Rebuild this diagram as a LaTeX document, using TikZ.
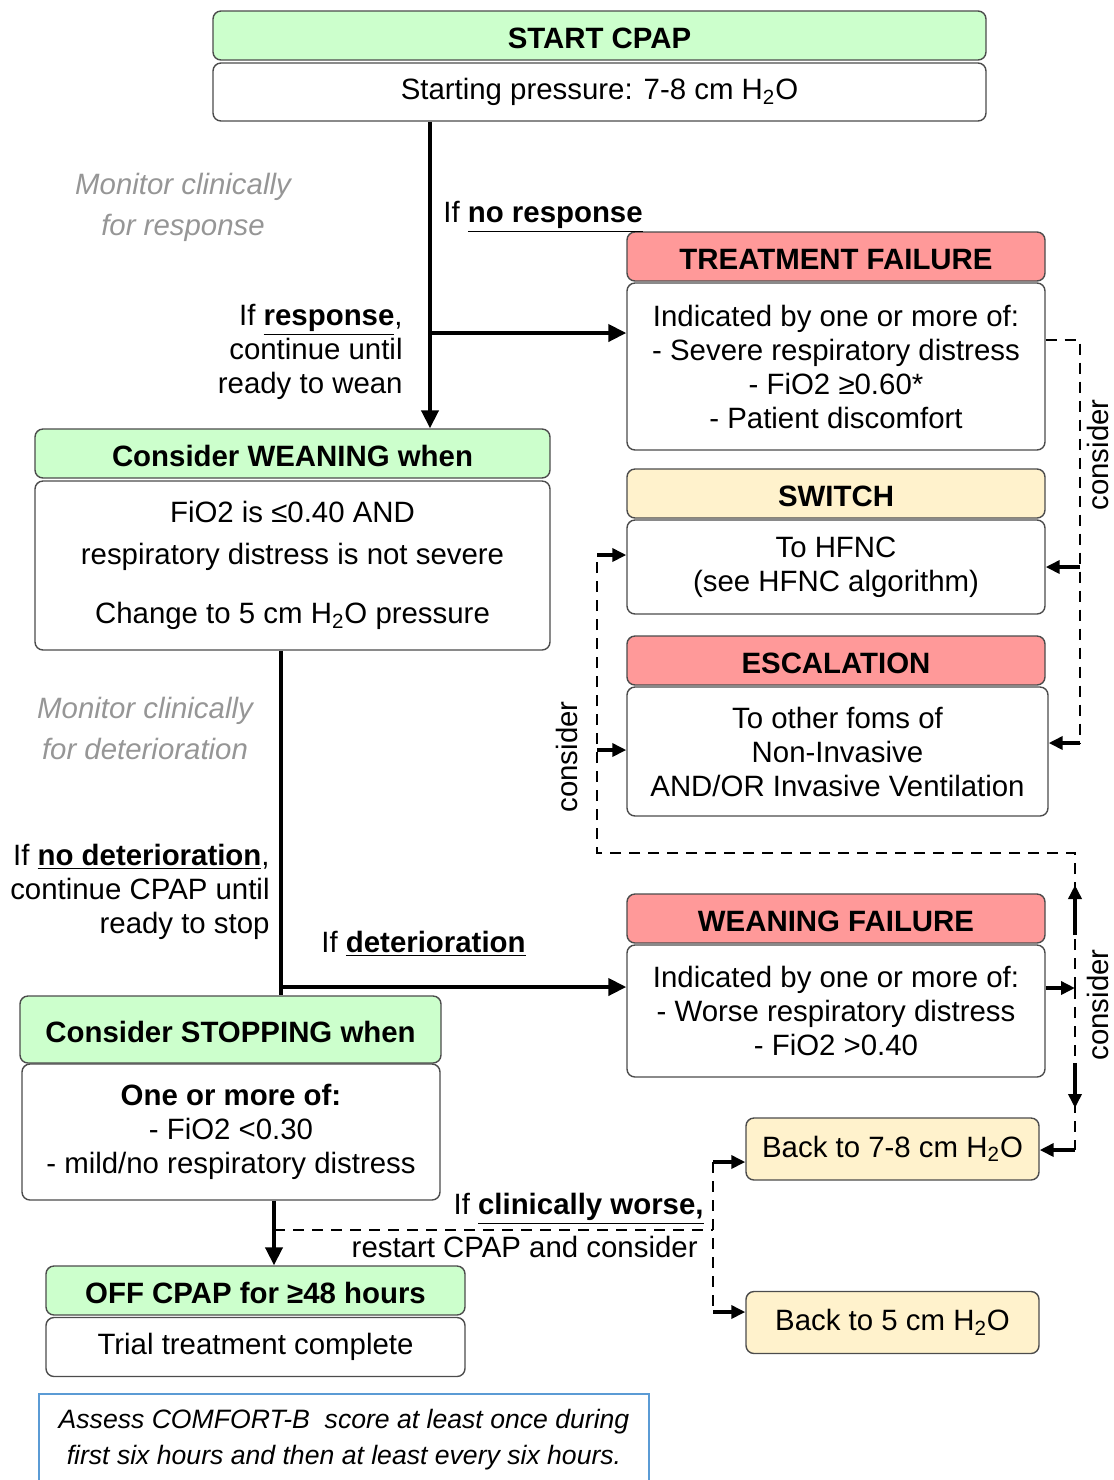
\documentclass[tikz,border=0pt]{standalone}
\usepackage{fontspec}
\setmainfont{Liberation Sans}
\usetikzlibrary{arrows.meta}
\definecolor{hdrgreen}{RGB}{204,255,204}
\definecolor{hdrred}{RGB}{255,153,153}
\definecolor{hdryellow}{RGB}{255,242,204}
\definecolor{monitorgrey}{RGB}{150,150,150}
\definecolor{noteblue}{RGB}{91,155,213}

\tikzset{
  box/.style={draw=black!70, line width=0.7pt, rounded corners=4pt, inner sep=0pt, align=center, fill=white},
  headbox/.style={box, minimum height=24.5pt, text height=13pt, text depth=0pt, font=\fontsize{14.7}{17}\selectfont\bfseries},
  greenhead/.style={headbox, fill=hdrgreen},
  redhead/.style={headbox, fill=hdrred},
  yellowhead/.style={headbox, fill=hdryellow},
  label/.style={inner sep=1pt},
  monitor/.style={text=monitorgrey, align=center, font=\fontsize{14.7}{20.5}\selectfont\itshape},
  mainarrow/.style={line width=2pt, -{Triangle[length=9pt,width=8.5pt]}},
  mainline/.style={line width=2pt},
  smallarrow/.style={line width=2pt, -{Triangle[length=7pt,width=6.5pt]}},
  dashline/.style={line width=1pt, dash pattern=on 5.5pt off 4pt},
}

\begin{document}
\begin{tikzpicture}[x=0.5pt, y=-0.5pt, every node/.style={font=\fontsize{14.7}{17}\selectfont}]
\useasboundingbox (0,0) rectangle (1114,1480);

% start
\node[greenhead, minimum width=386.5pt] (startH) at (599.5,35.5) {START CPAP};
\node[box, minimum width=386.5pt, minimum height=29pt] (startB) at (599.5,92) {Starting pressure: 7-8 cm H\textsubscript{2}O};

% failure, switch, escalation
\node[redhead, minimum width=209pt] (tfH) at (836,256.5) {TREATMENT FAILURE};
\node[box, minimum width=209pt, minimum height=83.5pt] (tfB) at (836,366.5) {Indicated by one or more of:\\ - Severe respiratory distress\\ - FiO2 ≥0.60*\\ - Patient discomfort};
\node[yellowhead, minimum width=209pt] (swH) at (836,493.5) {SWITCH};
\node[box, minimum width=209pt, minimum height=47pt] (swB) at (836,567) {To HFNC\\ (see HFNC algorithm)};
\node[redhead, minimum width=209pt] (escH) at (836,660.5) {ESCALATION};
\node[box, minimum width=210.5pt, minimum height=64.5pt] (escB) at (837.5,751.5) {To other foms of\\ Non-Invasive\\ AND/OR Invasive Ventilation};

% weaning
\node[greenhead, minimum width=257.5pt] (weanH) at (292.5,453.5) {Consider WEANING when};
\node[box, minimum width=257.5pt, minimum height=84.5pt] (weanB) at (292.5,565.5) {FiO2 is ≤0.40 AND\\[4pt] respiratory distress is not severe\\[12.5pt] Change to 5 cm H\textsubscript{2}O pressure};
\node[redhead, minimum width=209pt] (wfH) at (836,918.5) {WEANING FAILURE};
\node[box, minimum width=209pt, minimum height=66pt] (wfB) at (836,1011) {Indicated by one or more of:\\ - Worse respiratory distress\\ - FiO2 >0.40};

% stopping
\node[greenhead, minimum width=210.5pt, minimum height=33.5pt] (stopH) at (230.5,1029.5) {Consider STOPPING when};
\node[box, minimum width=209pt, minimum height=68pt] (stopB) at (231,1132) {\textbf{One or more of:}\\ - FiO2 <0.30\\ - mild/no respiratory distress};
\node[greenhead, minimum width=209.5pt] (offH) at (255.5,1290.5) {OFF CPAP for ≥48 hours};
\node[box, minimum width=209.5pt, minimum height=29.5pt] (offB) at (255.5,1347) {Trial treatment complete};
\node[box, fill=hdryellow, minimum width=146.5pt, minimum height=31pt] (back78) at (892.5,1149) {Back to 7-8 cm H\textsubscript{2}O};
\node[box, fill=hdryellow, minimum width=146.5pt, minimum height=31pt] (back5) at (892.5,1322.5) {Back to 5 cm H\textsubscript{2}O};

% labels
\node[monitor] (mon1) at (183,207) {Monitor clinically\\ for response};
\node[label, anchor=west] (noresp) at (441,217) {If \underline{\textbf{no response}}};
\node[label, anchor=east, align=right] (resp) at (405,352) {If \underline{\textbf{response}},\\ continue until\\ ready to wean};
\node[monitor] (mon2) at (145,728) {Monitor clinically\\ for deterioration};
\node[label, anchor=east, align=right] (nodet) at (272,892) {If \underline{\textbf{no deterioration}},\\ continue CPAP until\\ ready to stop};
\node[label, anchor=west] (det) at (319,944) {If \underline{\textbf{deterioration}}};
\node[label, anchor=east] (worse) at (706,1209) {If \underline{\textbf{clinically worse,}}};
\node[label, anchor=east] (restart) at (700,1247) {restart CPAP and consider};
\node[label, rotate=90] (cons1) at (1098,455) {consider};
\node[label, rotate=90] (cons2) at (567,757) {consider};
\node[label, rotate=90] (cons3) at (1098,1005) {consider};

% note
\begin{scope}
\clip (0,0) rectangle (1114,1480);
\node[draw=noteblue, line width=1pt, minimum width=305pt, minimum height=46pt, align=center,
  font=\fontsize{13.3}{18}\selectfont\itshape] (note) at (344,1440)
  {Assess COMFORT-B\ \ score at least once during\\ first six hours and then at least every six hours.};
\end{scope}

% main line
\coordinate (j1) at (430,333);
\draw[mainarrow] (startB.south -| j1) -- (weanH.north -| j1);
\draw[mainarrow] (j1) -- (j1 -| tfB.west);
\coordinate (j2) at (281,987);
\draw[mainline] (weanB.south -| j2) -- (stopH.north -| j2);
\draw[mainarrow] (j2) -- (j2 -| wfB.west);
\coordinate (j3) at (274,1230);
\draw[mainarrow] (stopB.south -| j3) -- (offH.north -| j3);

% restart branch
\coordinate (d1) at (713,1230);
\coordinate (a1) at (713,1162);
\coordinate (a2) at (713,1312);
\draw[dashline] (j3) -- (d1);
\draw[dashline] (a1) -- (a2);
\draw[smallarrow] (a1) -- (a1 -| back78.west);
\draw[smallarrow] (a2) -- (a2 -| back5.west);

% treatment failure branch
\coordinate (r1) at (1080,340);
\coordinate (r2) at (1080,567);
\coordinate (r3) at (1080,743);
\draw[dashline] (tfB.east |- r1) -- (r1) -- (r3);
\draw[smallarrow] (r2) -- (r2 -| swB.east);
\draw[smallarrow] (r3) -- (r3 -| escB.east);

% weaning failure branch
\coordinate (c1) at (1075,988);
\coordinate (c2) at (1075,853);
\coordinate (c3) at (597,853);
\coordinate (c4) at (597,555);
\coordinate (c5) at (597,750);
\coordinate (c6) at (1075,1150);
\coordinate (u1) at (1075,935);
\coordinate (u2) at (1075,885);
\coordinate (v1) at (1075,1063);
\coordinate (v2) at (1075,1108);
\draw[smallarrow] (wfB.east |- c1) -- (c1);
\draw[dashline] (c1) -- (c2) -- (c3) -- (c4);
\draw[dashline] (c1) -- (c6);
\draw[smallarrow] (u1) -- (u2);
\draw[smallarrow] (v1) -- (v2);
\draw[smallarrow] (c4) -- (c4 -| swB.west);
\draw[smallarrow] (c5) -- (c5 -| escB.west);
\draw[smallarrow] (c6) -- (c6 -| back78.east);
\end{tikzpicture}
\end{document}
